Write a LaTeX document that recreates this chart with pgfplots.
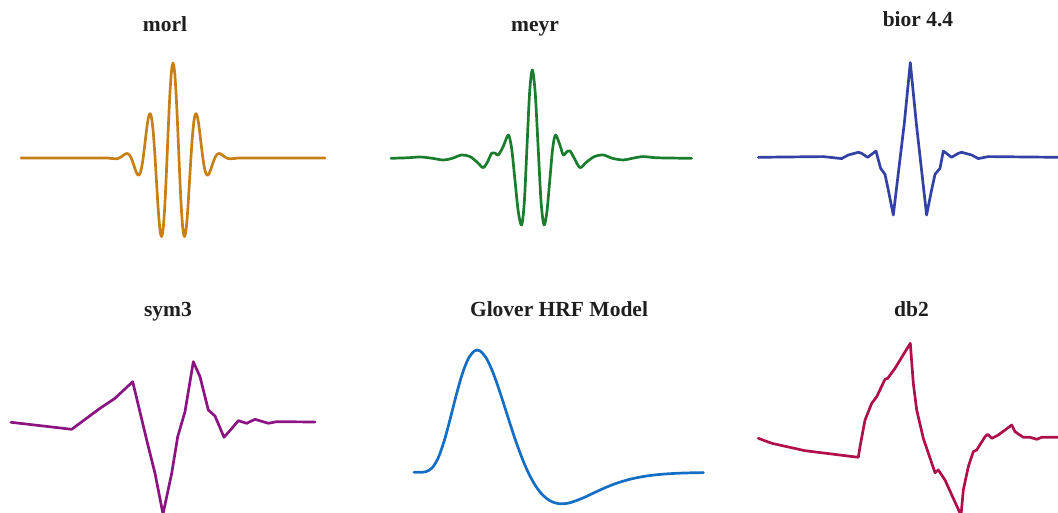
\documentclass[border=0pt]{standalone}
\usepackage{pgfplots}
\pgfplotsset{compat=1.18}
\usepackage{fontspec}
\setmainfont{Liberation Serif}
\definecolor{cmorl}{RGB}{200,128,20}
\definecolor{cmeyr}{RGB}{25,125,45}
\definecolor{cbior}{RGB}{50,65,165}
\definecolor{csym}{RGB}{140,20,130}
\definecolor{cglov}{RGB}{20,110,195}
\definecolor{cdb}{RGB}{175,15,75}
\definecolor{ctitle}{RGB}{30,30,30}
\pgfplotsset{panel/.style={hide axis, enlargelimits=false, clip=false, anchor=south west},
  wave/.style={line width=2.7pt, line join=round, line cap=round}}
\begin{document}
\begin{tikzpicture}
\clip (0,0) rectangle (1058pt,512pt);
% morl
\begin{axis}[panel, x=19pt, y=95pt, xmin=-8, xmax=8, ymin=-1, ymax=1, at={(21pt,259pt)}]
\addplot[wave, cmorl] coordinates {
(-8,0) (-3.6,0) (-3.4,-0.0009) (-3.2,-0.0057) (-3.0,-0.0084) (-2.9,-0.0053) (-2.8,0.0027) (-2.7,0.0155) (-2.6,0.0309) (-2.5,0.0438) (-2.4,0.0474) (-2.3,0.0343) (-2.2,0.0004) (-2.1,-0.0524) (-2.0,-0.1136) (-1.95,-0.1416) (-1.9,-0.1640) (-1.85,-0.1779) (-1.8,-0.1803) (-1.75,-0.1688) (-1.7,-0.1419) (-1.65,-0.0994) (-1.6,-0.0405) (-1.55,0.0326) (-1.5,0.1125) (-1.45,0.1979) (-1.4,0.2830) (-1.35,0.3593) (-1.3,0.4195) (-1.25,0.4575) (-1.2,0.4674) (-1.15,0.4446) (-1.1,0.3870) (-1.05,0.2951) (-1.0,0.1720) (-0.95,0.0239) (-0.9,-0.1406) (-0.85,-0.3108) (-0.8,-0.4746) (-0.75,-0.6194) (-0.7,-0.7330) (-0.65,-0.8048) (-0.6,-0.8269) (-0.55,-0.7946) (-0.5,-0.7070) (-0.45,-0.5677) (-0.4,-0.3842) (-0.35,-0.1677) (-0.3,0.0676) (-0.25,0.3056) (-0.2,0.5296) (-0.15,0.7235) (-0.1,0.8732) (-0.05,0.9677) (0,1)
(0.05,0.9677) (0.1,0.8732) (0.15,0.7235) (0.2,0.5296) (0.25,0.3056) (0.3,0.0676) (0.35,-0.1677) (0.4,-0.3842) (0.45,-0.5677) (0.5,-0.7070) (0.55,-0.7946) (0.6,-0.8269) (0.65,-0.8048) (0.7,-0.7330) (0.75,-0.6194) (0.8,-0.4746) (0.85,-0.3108) (0.9,-0.1406) (0.95,0.0239) (1.0,0.1720) (1.05,0.2951) (1.1,0.3870) (1.15,0.4446) (1.2,0.4674) (1.25,0.4575) (1.3,0.4195) (1.35,0.3593) (1.4,0.2830) (1.45,0.1979) (1.5,0.1125) (1.55,0.0326) (1.6,-0.0405) (1.65,-0.0994) (1.7,-0.1419) (1.75,-0.1688) (1.8,-0.1803) (1.85,-0.1779) (1.9,-0.1640) (1.95,-0.1416) (2.0,-0.1136) (2.1,-0.0524) (2.2,0.0004) (2.3,0.0343) (2.4,0.0474) (2.5,0.0438) (2.6,0.0309) (2.7,0.0155) (2.8,0.0027) (2.9,-0.0053) (3.0,-0.0084) (3.2,-0.0057) (3.4,-0.0009) (3.6,0) (8,0)};
\end{axis}
% meyr
\begin{axis}[panel, x=1pt, y=1pt, xmin=-142, xmax=160, ymin=-70, ymax=90, at={(390.3pt,283.7pt)}]
\addplot[wave, cmeyr, smooth, tension=0.5] coordinates {
(-141.3,0) (-125,0.5) (-112,1.3) (-100,0) (-89,-1.7) (-80,0) (-70.7,3.3) (-62.3,1.7) (-55,-4) (-49,-9.3) (-44,-2) (-40.7,5) (-37,5) (-34,3.3) (-29,12) (-24,23.3) (-20.7,10.1) (-17.35,-21.7) (-14,-53.5) (-10.7,-66.7) (-8,-44) (-5.35,10.8) (-2.7,65.6) (0,88.3) (2.9,65.6) (5.85,10.8) (8.8,-44) (11.7,-66.7) (14.6,-53.5) (17.5,-21.7) (20.4,10.1) (23.3,23.3) (28,12) (31,3.3) (34.5,6.5) (37.7,7.3) (42,0) (47.7,-9.3) (54,-4) (62,1.7) (71,3.3) (80,0) (91,-1.7) (100,0) (111,1.7) (125,0.5) (159.3,0)};
\end{axis}
% bior 4.4
\begin{axis}[panel, x=1pt, y=1pt, xmin=-152, xmax=148, ymin=-60, ymax=96, at={(758.3pt,294.7pt)}]
\addplot[wave, cbior] coordinates {
(-152,0) (-87,0.7) (-68.7,-1.3) (-62,2.3) (-52,5) (-48.7,4) (-42.7,0) (-34.3,6.3) (-29.7,-11) (-25.3,-17) (-22,-32.7) (-17,-57.7) (-6,34) (0,94.7) (6,34) (16.3,-57.7) (21.3,-32.7) (24.7,-17) (29.7,-11) (33,6.3) (41.3,0) (48,4) (51.3,5) (61.3,2.3) (68,-1.3) (78,0.7) (148,0)};
\end{axis}
% sym3
\begin{axis}[panel, x=1pt, y=1pt, xmin=-152, xmax=152, ymin=-92, ymax=62, at={(11pt,-2pt)}]
\addplot[wave, csym] coordinates {
(-152,-0.3) (-91.3,-7.3) (-63,13.7) (-48,23.7) (-30.3,40.3) (-16.3,-18) (-8,-51.3) (0,-92) (8.7,-51.3) (14.7,-14.7) (22,10.3) (30.3,60.3) (37,45.3) (45.3,12) (52,6) (61,-15.3) (70.3,-4.7) (75.3,1.3) (83.7,-1.3) (92,2.7) (105.3,-1.3) (113.7,0.3) (152,0)};
\end{axis}
% Glover HRF
\begin{axis}[panel, x=12.06pt, y=122.3pt, xmin=0, xmax=24, ymin=-0.3, ymax=1, at={(414pt,3pt)}]
\addplot[wave, cglov, smooth, tension=0.5] coordinates {
(0,0) (0.5,0.0001) (1,0.0056) (1.5,0.0361) (2,0.1164) (2.5,0.2549) (3,0.4365) (3.5,0.6302) (4,0.8033) (4.5,0.9290) (5,0.9924) (5.25,1.0) (5.5,0.9916) (6,0.9326) (6.5,0.8279) (7,0.6924) (7.5,0.5406) (8,0.3858) (8.5,0.2383) (9,0.1059) (9.5,-0.0073) (10,-0.0982) (10.5,-0.1668) (11,-0.2145) (11.5,-0.2431) (12,-0.2563) (12.5,-0.2561) (13,-0.2469) (14,-0.2104) (15,-0.1641) (16,-0.1196) (17,-0.0827) (18,-0.0546) (19,-0.0346) (20,-0.0212) (21,-0.0126) (22,-0.0072) (23,-0.0041) (24,-0.0023)};
\end{axis}
% db2
\begin{axis}[panel, x=1pt, y=1pt, xmin=-152, xmax=148, ymin=-78, ymax=95, at={(758.3pt,-3.3pt)}]
\addplot[wave, cdb] coordinates {
(-152,-1) (-138.6,-6) (-105.3,-13.4) (-52,-20) (-50.3,-9.4) (-45.3,17.3) (-38.6,34) (-33.6,40.6) (-25.3,58) (-22.6,59) (-15.3,69) (0,94) (3,54) (6.4,27.3) (13,-1) (24.7,-35.4) (28,-32.7) (34.7,-42.7) (50.7,-78) (53,-52.7) (58,-29.4) (63,-14.4) (66.4,-12.7) (74.7,0.6) (77.4,3) (81.4,-1) (88,2.3) (101.4,12.3) (104.7,5.6) (113,0) (119.7,0) (126.4,-2) (131.4,0) (148,0)};
\end{axis}
% titles
\begin{scope}[every node/.style={anchor=base, text=ctitle, font=\fontsize{21.5}{24}\selectfont\bfseries, inner sep=0pt}]
\node at (165pt,480pt) {morl};
\node at (535pt,480pt) {meyr};
\node at (918pt,485pt) {bior 4.4};
\node at (168pt,195pt) {sym3};
\node at (559pt,195pt) {Glover HRF Model};
\node at (911.5pt,195pt) {db2};
\end{scope}
\end{tikzpicture}
\end{document}
